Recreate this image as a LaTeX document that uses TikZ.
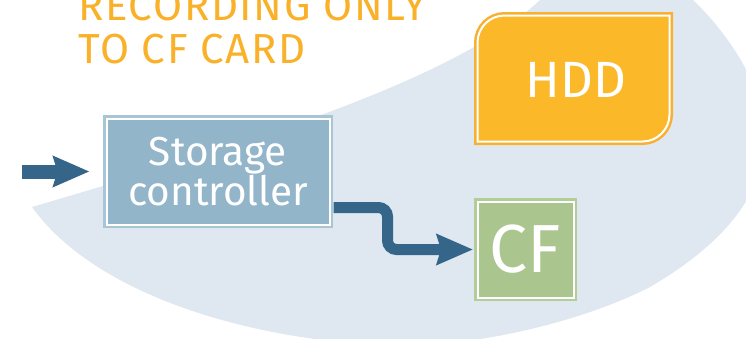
\documentclass[tikz,border=0pt]{standalone}
\usepackage{fontspec}
\setmainfont{Fira Sans}
\usetikzlibrary{arrows.meta}

\definecolor{fondo}{HTML}{DFE7F0}
\definecolor{azul}{HTML}{35668A}
\definecolor{titulo}{HTML}{FAB12A}
\definecolor{ctrlfill}{HTML}{93B5C9}
\definecolor{ctrlborde}{HTML}{A8C5D5}
\definecolor{hddfill}{HTML}{FBB829}
\definecolor{hddborde}{HTML}{F8B030}
\definecolor{cffill}{HTML}{ABC58F}
\definecolor{cfborde}{HTML}{B3CD98}

\begin{document}
\begin{tikzpicture}[x=1pt,y=-1pt,
    caja/.style 2 args={fill=#1, draw=white, line width=2pt,
      preaction={draw=#2, line width=7pt}, text=white, inner sep=0pt},
    flecha/.style={draw=azul, -{Stealth[length=36pt,width=30pt,inset=4pt]}}]

  \useasboundingbox (0,0) rectangle (746,338);

  % Fondo
  \begin{scope}
    \clip (0,0) rectangle (746,338);
    \fill[fondo] (32,207) .. controls (260,140) and (470,75) .. (548,-8)
      .. controls (600,-30) and (660,-25) .. (693,0)
      .. controls (730,35) and (765,90) .. (765,135)
      .. controls (765,190) and (730,240) .. (650,287)
      .. controls (570,328) and (450,350) .. (385,345)
      .. controls (250,340) and (95,295) .. (32,207) -- cycle;
  \end{scope}

  % Titulo
  \node[titulo, anchor=north west, inner sep=0pt, align=left,
    font=\fontsize{42}{43}\selectfont\addfontfeature{LetterSpace=4}] (titulo) at (78,-9)
    {RECORDING ONLY\\TO CF CARD};

  % Cajas
  \node[caja={ctrlfill}{ctrlborde}, minimum width=223pt, minimum height=106pt,
    align=center, font=\fontsize{40.5}{38}\selectfont] (ctrl) at (218,171.5)
    {Storage\\controller};

  \path[caja={hddfill}{hddborde}] (477.5,78.5) [rounded corners=27pt]
    |- (573.5,15.5) [sharp corners] -| (669.5,78.5) [rounded corners=27pt]
    |- (573.5,141.5) [sharp corners] -| (477.5,78.5) -- cycle;
  \node[text=white, font=\fontsize{51}{51}\selectfont] (hdd) at (576,80) {HDD};

  \node[caja={cffill}{cfborde}, minimum width=96pt, minimum height=96pt,
    font=\fontsize{68}{68}\selectfont] (cf) at (525.5,249.5) {CF};

  % Flechas
  \coordinate (entrada) at (22,171.5);
  \draw[flecha, line width=14pt, shorten >=16pt] (entrada) -- (ctrl.west);
  \draw[flecha, line width=11pt, rounded corners=9pt, shorten >=3.5pt]
    ([xshift=3pt,yshift=-36pt]ctrl.east) -- ++(54,0) |- (cf.west);

\end{tikzpicture}
\end{document}
